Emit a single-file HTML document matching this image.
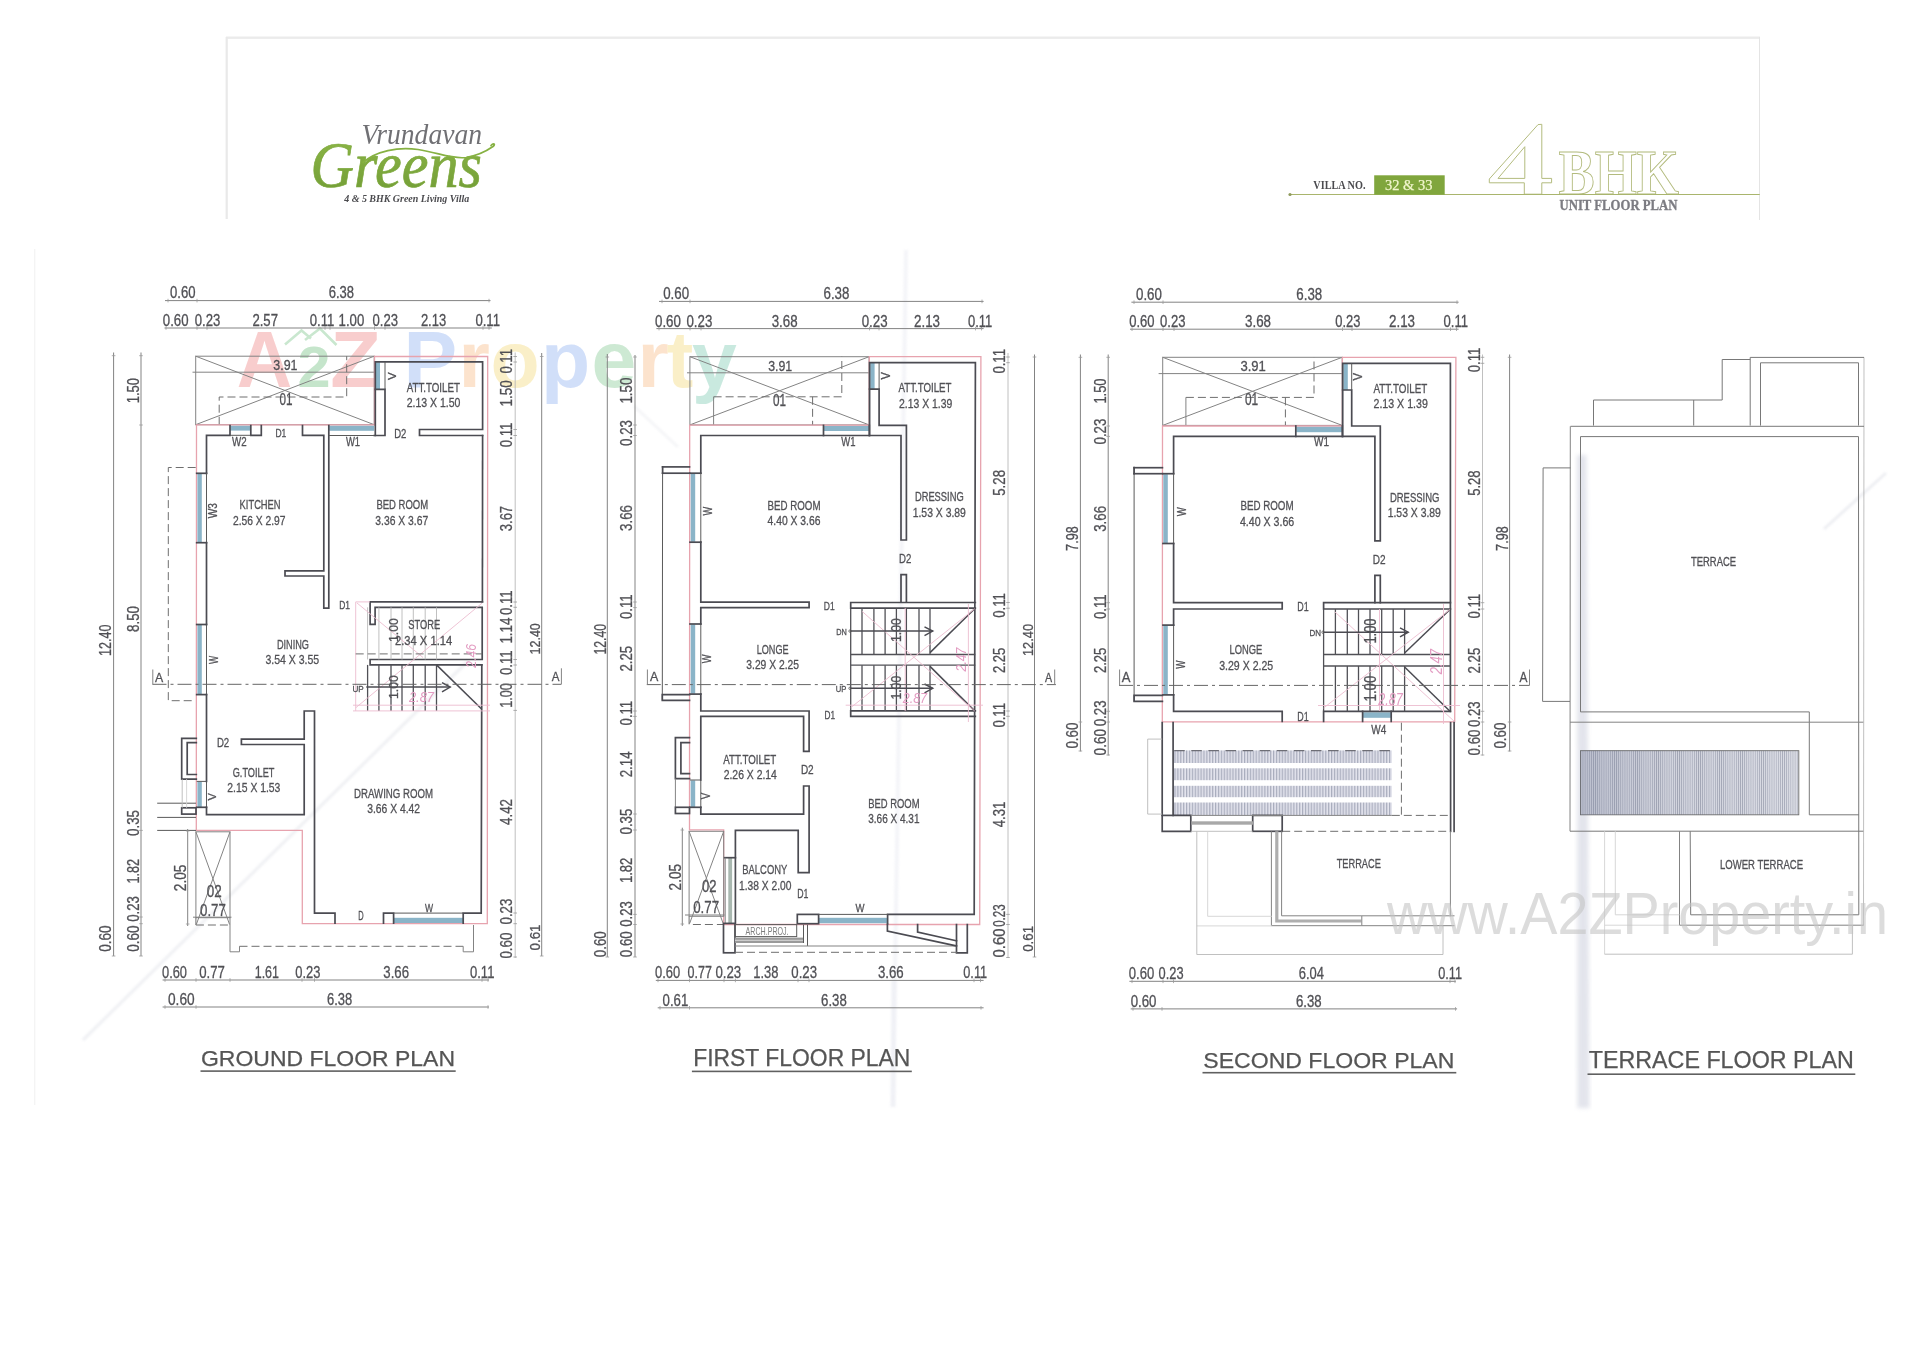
<!DOCTYPE html>
<html><head><meta charset="utf-8"><title>4 BHK Unit Floor Plan</title>
<style>
html,body{margin:0;padding:0;background:#fff;}
body{width:1920px;height:1357px;overflow:hidden;font-family:"Liberation Sans",sans-serif;}
svg{display:block;position:absolute;left:0;top:0;}
text{font-family:"Liberation Sans",sans-serif;}
.w{fill:none;stroke:#4b4b52;stroke-width:1.7;stroke-linecap:square;stroke-linejoin:miter;}
.wf{fill:#fff;stroke:#4b4b52;stroke-width:1.7;}
.t{fill:none;stroke:#838383;stroke-width:1;}
.tr{fill:none;stroke:#787878;stroke-width:1;}
.tt{fill:none;stroke:#5a5a5a;stroke-width:1;}
.ar{fill:none;stroke:#4b4b52;stroke-width:1.5;}
.st{fill:none;stroke:#505056;stroke-width:1.3;}
.tk{fill:none;stroke:#9a9a9a;stroke-width:0.8;}
.g{fill:none;stroke:#b9b9b9;stroke-width:0.9;}
.gg{fill:none;stroke:#d2d2d2;stroke-width:0.9;}
.ds{fill:none;stroke:#6e6e6e;stroke-width:1;stroke-dasharray:8 4;}
.dd{fill:none;stroke:#666;stroke-width:1;stroke-dasharray:14 4 3 4;}
.r{fill:none;stroke:#e7a3ae;stroke-width:1.3;}
.p{fill:none;stroke:#ecbccf;stroke-width:0.9;}
.b{fill:#8ab4c8;stroke:none;}
.d{fill:#505055;stroke:#505055;stroke-width:0.3;}
.l{fill:#505055;stroke:#505055;stroke-width:0.3;}
.pk{fill:#e39cc2;font-style:italic;}
.ti{fill:#555;stroke:#555;stroke-width:0.25;}
.sm{fill:#7d7d7d;}
</style></head><body>
<svg width="1920" height="1357" viewBox="0 0 1920 1357">
<defs>
<linearGradient id="gg" x1="0" y1="0" x2="0" y2="1"><stop offset="0" stop-color="#8fb948"/><stop offset="1" stop-color="#6f9a35"/></linearGradient>
<pattern id="hat" width="2.9" height="8" patternUnits="userSpaceOnUse" x="1174.4"><rect width="2.9" height="8" fill="#e3e4ed"/><rect width="1.25" height="8" fill="#a9adbd"/></pattern>
<pattern id="hat2" width="2.1" height="8" patternUnits="userSpaceOnUse" x="1580.5"><rect width="2.1" height="8" fill="#d8dae3"/><rect width="0.75" height="8" fill="#9ea2b2"/></pattern>
<linearGradient id="hg" x1="0" y1="0" x2="1" y2="0"><stop offset="0" stop-color="#7d84a0" stop-opacity="0.32"/><stop offset="0.45" stop-color="#9da2b6" stop-opacity="0.08"/><stop offset="1" stop-color="#ffffff" stop-opacity="0.1"/></linearGradient>
<filter id="bl" x="-20%" y="-20%" width="140%" height="140%"><feGaussianBlur stdDeviation="2.2"/></filter>
<filter id="bl1" x="-20%" y="-20%" width="140%" height="140%"><feGaussianBlur stdDeviation="1.2"/></filter>
</defs>
<g opacity="0.999">
<rect x="226" y="36.5" width="1534" height="2.4" fill="#ebebeb"/>
<rect x="225.6" y="37" width="2.2" height="182" fill="#e9e9e9"/>
<rect x="1759" y="37" width="1" height="183" fill="#e4e4e4"/>
<text x="361.5" y="144.3" font-family="Liberation Serif" font-style="italic" font-size="29.5" fill="#707074" textLength="120.5" lengthAdjust="spacingAndGlyphs" style="font-family:'Liberation Serif',serif">Vrundavan</text>
<text x="310.5" y="187.3" font-style="italic" font-size="65.5" fill="url(#gg)" stroke="#7ca83b" stroke-width="0.7" textLength="171.5" lengthAdjust="spacingAndGlyphs" style="font-family:'Liberation Serif',serif">Greens</text>
<path d="M363 162.5 C376 151 398 146.5 418 149.5 C438 152.5 452 159.5 466 157.5 C478 155.5 488 150 493 146.5 C496 144 493.5 142.5 491 145.5" fill="none" stroke="#86b142" stroke-width="1.7" stroke-linecap="round"/>
<text x="344.2" y="202.3" font-style="italic" font-weight="bold" font-size="10.3" fill="#4a4a4e" textLength="125" lengthAdjust="spacingAndGlyphs" style="font-family:'Liberation Serif',serif">4 &amp; 5 BHK Green Living Villa</text>
<line x1="1290" y1="194.5" x2="1759.5" y2="194.5" stroke="#a9b56d" stroke-width="1.1"/>
<circle cx="1290" cy="194.5" r="1.6" fill="#8f9a5c"/>
<text x="1313.3" y="188.8" font-weight="bold" font-size="12.2" fill="#4b4b4f" textLength="52.2" lengthAdjust="spacingAndGlyphs" style="font-family:'Liberation Serif',serif">VILLA NO.</text>
<rect x="1374.2" y="175.3" width="70.5" height="19.4" fill="#80a63d"/>
<text x="1385" y="190" font-size="15.6" fill="#f1f6cd" stroke="#f1f6cd" stroke-width="0.25" textLength="47.5" lengthAdjust="spacingAndGlyphs" style="font-family:'Liberation Serif',serif">32 &amp; 33</text>
<path d="M1538 124.6 L1541.8 124.3 L1541.8 178.4 L1551.6 178.4 L1551.6 182.8 L1541.8 182.8 L1541.8 194.2 L1524.3 194.2 L1524.3 182.8 L1489.3 182.8 L1489.3 179 Z M1524.8 146.7 L1524.8 178.4 L1498 178.4 Z" fill="#fff" fill-rule="evenodd" stroke="#b3bb7e" stroke-width="1" stroke-linejoin="miter"/>
<text x="1558.5" y="194.3" font-weight="bold" font-size="62.6" fill="#fff" stroke="#b3bb7e" stroke-width="1" textLength="120.5" lengthAdjust="spacingAndGlyphs" style="font-family:'Liberation Serif',serif">BHK</text>
<line x1="1486" y1="194.5" x2="1759.5" y2="194.5" stroke="#a9b56d" stroke-width="1.1"/>
<text x="1559.5" y="210.2" font-weight="bold" font-size="13.6" fill="#7c7c82" stroke="#7c7c82" stroke-width="0.3" textLength="118" lengthAdjust="spacingAndGlyphs" style="font-family:'Liberation Serif',serif">UNIT FLOOR PLAN</text>
<line x1="34.8" y1="249" x2="34.8" y2="1105" stroke="#f0f0f0" stroke-width="1"/>
<g opacity="0.9">
<text x="236.8" y="387.4" font-weight="bold" font-size="80.5" style="font-family:'Liberation Sans',sans-serif" fill="#f8c8c8" textLength="55.5" lengthAdjust="spacingAndGlyphs">A</text>
<text x="297.5" y="387.4" font-weight="bold" font-size="57.5" fill="#bfe3c6" textLength="33" lengthAdjust="spacingAndGlyphs">2</text>
<path d="M285 344.5 L301.5 330.5 L311 338.5 M305 340 L320 328.5 L336.5 345" fill="none" stroke="#c4e5ca" stroke-width="2.6"/>
<text x="330.3" y="387.4" font-weight="bold" font-size="80.5" style="font-family:'Liberation Sans',sans-serif" fill="#f8c8c8" textLength="50.5" lengthAdjust="spacingAndGlyphs">Z</text>
<text x="403.5" y="387.3" font-weight="bold" font-size="80.5" style="font-family:'Liberation Sans',sans-serif" fill="#cddcf9">P</text>
<text x="458.5" y="387.3" font-weight="bold" font-size="80.5" style="font-family:'Liberation Sans',sans-serif" fill="#fce0c8">r</text>
<text x="490.5" y="387.3" font-weight="bold" font-size="80.5" style="font-family:'Liberation Sans',sans-serif" fill="#faeec2">o</text>
<text x="541" y="387.3" font-weight="bold" font-size="80.5" style="font-family:'Liberation Sans',sans-serif" fill="#cddcf9">p</text>
<text x="591.5" y="387.3" font-weight="bold" font-size="80.5" style="font-family:'Liberation Sans',sans-serif" fill="#c8e7cf">e</text>
<text x="637.5" y="387.3" font-weight="bold" font-size="80.5" style="font-family:'Liberation Sans',sans-serif" fill="#fce0c8">r</text>
<text x="666.5" y="387.3" font-weight="bold" font-size="80.5" style="font-family:'Liberation Sans',sans-serif" fill="#faeec2">t</text>
<text x="692" y="387.3" font-weight="bold" font-size="80.5" style="font-family:'Liberation Sans',sans-serif" fill="#c4e7dc">y</text>
</g>
<g filter="url(#bl)" opacity="0.4">
<path d="M1577 455 L1586.5 455 L1589.5 1108 L1577.5 1108 Z" fill="#b9bdd0"/>
</g>
<g filter="url(#bl1)" opacity="0.3">
<line x1="468" y1="661" x2="83" y2="1040" stroke="#cfd2dc" stroke-width="3.2"/>
<line x1="1886" y1="473" x2="1824" y2="529" stroke="#c6c9d6" stroke-width="3"/>
<line x1="906" y1="250" x2="893" y2="1107" stroke="#dcdeea" stroke-width="4"/>
<line x1="894" y1="980" x2="893" y2="1107" stroke="#cfd2e2" stroke-width="5"/>
<line x1="634" y1="406" x2="678" y2="447" stroke="#dddfe6" stroke-width="3"/>
</g>
<line class="t" x1="165" y1="300.6" x2="490.5" y2="300.6"/>
<line class="tk" x1="168" y1="298.8" x2="168" y2="302.4"/>
<line class="tk" x1="197" y1="298.8" x2="197" y2="302.4"/>
<line class="tk" x1="489" y1="298.8" x2="489" y2="302.4"/>
<text class="d" x="170" y="298.3" font-size="15.71" textLength="25.5" lengthAdjust="spacingAndGlyphs">0.60</text>
<text class="d" x="328.7" y="298.3" font-size="15.71" textLength="25.3" lengthAdjust="spacingAndGlyphs">6.38</text>
<line class="t" x1="164.5" y1="328" x2="491.8" y2="328"/>
<line class="tk" x1="166" y1="326.2" x2="166" y2="329.8"/>
<line class="tk" x1="197" y1="326.2" x2="197" y2="329.8"/>
<line class="tk" x1="207" y1="326.2" x2="207" y2="329.8"/>
<line class="tk" x1="325" y1="326.2" x2="325" y2="329.8"/>
<line class="tk" x1="330" y1="326.2" x2="330" y2="329.8"/>
<line class="tk" x1="374.5" y1="326.2" x2="374.5" y2="329.8"/>
<line class="tk" x1="385" y1="326.2" x2="385" y2="329.8"/>
<line class="tk" x1="483" y1="326.2" x2="483" y2="329.8"/>
<line class="tk" x1="489" y1="326.2" x2="489" y2="329.8"/>
<text class="d" x="162.8" y="325.8" font-size="15.71" textLength="25.7" lengthAdjust="spacingAndGlyphs">0.60</text>
<text class="d" x="194.8" y="325.8" font-size="15.71" textLength="25.6" lengthAdjust="spacingAndGlyphs">0.23</text>
<text class="d" x="252.4" y="325.8" font-size="15.71" textLength="25.6" lengthAdjust="spacingAndGlyphs">2.57</text>
<text class="d" x="309.8" y="325.8" font-size="15.71" textLength="24.6" lengthAdjust="spacingAndGlyphs">0.11</text>
<text class="d" x="338.6" y="325.8" font-size="15.71" textLength="25.7" lengthAdjust="spacingAndGlyphs">1.00</text>
<text class="d" x="372.5" y="325.8" font-size="15.71" textLength="25.5" lengthAdjust="spacingAndGlyphs">0.23</text>
<text class="d" x="420.9" y="325.8" font-size="15.71" textLength="25.3" lengthAdjust="spacingAndGlyphs">2.13</text>
<text class="d" x="475.4" y="325.8" font-size="15.71" textLength="24.6" lengthAdjust="spacingAndGlyphs">0.11</text>
<line class="t" x1="113.6" y1="352.5" x2="113.6" y2="956"/>
<line class="t" x1="141" y1="352.5" x2="141" y2="956"/>
<line class="tk" x1="111.8" y1="355.7" x2="115.4" y2="355.7"/>
<line class="tk" x1="111.8" y1="956" x2="115.4" y2="956"/>
<line class="tk" x1="139.2" y1="355.7" x2="142.8" y2="355.7"/>
<line class="tk" x1="139.2" y1="425" x2="142.8" y2="425"/>
<line class="tk" x1="139.2" y1="830.4" x2="142.8" y2="830.4"/>
<line class="tk" x1="139.2" y1="917" x2="142.8" y2="917"/>
<line class="tk" x1="139.2" y1="923.7" x2="142.8" y2="923.7"/>
<line class="tk" x1="139.2" y1="956" x2="142.8" y2="956"/>
<text class="d" transform="translate(110.6 656) rotate(-90)" font-size="16.57" textLength="31.5" lengthAdjust="spacingAndGlyphs">12.40</text>
<text class="d" transform="translate(110.6 951.8) rotate(-90)" font-size="16.57" textLength="26.5" lengthAdjust="spacingAndGlyphs">0.60</text>
<text class="d" transform="translate(139.4 403.3) rotate(-90)" font-size="15.86" textLength="25.3" lengthAdjust="spacingAndGlyphs">1.50</text>
<text class="d" transform="translate(139.4 632) rotate(-90)" font-size="15.86" textLength="26" lengthAdjust="spacingAndGlyphs">8.50</text>
<text class="d" transform="translate(139.4 836) rotate(-90)" font-size="15.86" textLength="26" lengthAdjust="spacingAndGlyphs">0.35</text>
<text class="d" transform="translate(139.4 883.6) rotate(-90)" font-size="15.86" textLength="24.6" lengthAdjust="spacingAndGlyphs">1.82</text>
<text class="d" transform="translate(139.4 921.8) rotate(-90)" font-size="15.86" textLength="25.8" lengthAdjust="spacingAndGlyphs">0.23</text>
<text class="d" transform="translate(139.4 951.8) rotate(-90)" font-size="15.86" textLength="26.5" lengthAdjust="spacingAndGlyphs">0.60</text>
<line class="g" x1="515.2" y1="352.5" x2="515.2" y2="958"/>
<line class="t" x1="541.7" y1="353" x2="541.7" y2="956"/>
<line class="tk" x1="513.4" y1="356.5" x2="517" y2="356.5"/>
<line class="tk" x1="513.4" y1="362" x2="517" y2="362"/>
<line class="tk" x1="513.4" y1="429.5" x2="517" y2="429.5"/>
<line class="tk" x1="513.4" y1="435.5" x2="517" y2="435.5"/>
<line class="tk" x1="513.4" y1="602" x2="517" y2="602"/>
<line class="tk" x1="513.4" y1="607.3" x2="517" y2="607.3"/>
<line class="tk" x1="513.4" y1="659.5" x2="517" y2="659.5"/>
<line class="tk" x1="513.4" y1="665" x2="517" y2="665"/>
<line class="tk" x1="513.4" y1="710.4" x2="517" y2="710.4"/>
<line class="tk" x1="513.4" y1="913" x2="517" y2="913"/>
<line class="tk" x1="513.4" y1="923.7" x2="517" y2="923.7"/>
<line class="tk" x1="513.4" y1="957" x2="517" y2="957"/>
<line class="tk" x1="539.9" y1="356.5" x2="543.5" y2="356.5"/>
<line class="tk" x1="539.9" y1="956" x2="543.5" y2="956"/>
<text class="d" transform="translate(512 373.6) rotate(-90)" font-size="16" textLength="24.6" lengthAdjust="spacingAndGlyphs">0.11</text>
<text class="d" transform="translate(512 406.4) rotate(-90)" font-size="16" textLength="26" lengthAdjust="spacingAndGlyphs">1.50</text>
<text class="d" transform="translate(512 447.3) rotate(-90)" font-size="16" textLength="24.6" lengthAdjust="spacingAndGlyphs">0.11</text>
<text class="d" transform="translate(512 531.2) rotate(-90)" font-size="16" textLength="25.3" lengthAdjust="spacingAndGlyphs">3.67</text>
<text class="d" transform="translate(512 615) rotate(-90)" font-size="16" textLength="24.6" lengthAdjust="spacingAndGlyphs">0.11</text>
<text class="d" transform="translate(512 643.6) rotate(-90)" font-size="16" textLength="25.9" lengthAdjust="spacingAndGlyphs">1.14</text>
<text class="d" transform="translate(512 675) rotate(-90)" font-size="16" textLength="24.5" lengthAdjust="spacingAndGlyphs">0.11</text>
<text class="d" transform="translate(512 707.7) rotate(-90)" font-size="16" textLength="24.5" lengthAdjust="spacingAndGlyphs">1.00</text>
<text class="d" transform="translate(512 825) rotate(-90)" font-size="16" textLength="26" lengthAdjust="spacingAndGlyphs">4.42</text>
<text class="d" transform="translate(512 924.5) rotate(-90)" font-size="16" textLength="25.9" lengthAdjust="spacingAndGlyphs">0.23</text>
<text class="d" transform="translate(512 958.6) rotate(-90)" font-size="16" textLength="25.9" lengthAdjust="spacingAndGlyphs">0.60</text>
<text class="d" transform="translate(540 654.5) rotate(-90)" font-size="15.29" textLength="31.3" lengthAdjust="spacingAndGlyphs">12.40</text>
<text class="d" transform="translate(540 950.4) rotate(-90)" font-size="15.29" textLength="25.9" lengthAdjust="spacingAndGlyphs">0.61</text>
<line class="t" x1="162.6" y1="980" x2="489" y2="980"/>
<line class="tk" x1="165" y1="978.2" x2="165" y2="981.8"/>
<line class="tk" x1="196" y1="978.2" x2="196" y2="981.8"/>
<line class="tk" x1="230" y1="978.2" x2="230" y2="981.8"/>
<line class="tk" x1="302" y1="978.2" x2="302" y2="981.8"/>
<line class="tk" x1="314.5" y1="978.2" x2="314.5" y2="981.8"/>
<line class="tk" x1="482" y1="978.2" x2="482" y2="981.8"/>
<line class="tk" x1="488" y1="978.2" x2="488" y2="981.8"/>
<text class="d" x="162" y="977.8" font-size="16.43" textLength="25" lengthAdjust="spacingAndGlyphs">0.60</text>
<text class="d" x="199.2" y="977.8" font-size="16.43" textLength="25.7" lengthAdjust="spacingAndGlyphs">0.77</text>
<text class="d" x="254.7" y="977.8" font-size="16.43" textLength="24.3" lengthAdjust="spacingAndGlyphs">1.61</text>
<text class="d" x="295.3" y="977.8" font-size="16.43" textLength="25.2" lengthAdjust="spacingAndGlyphs">0.23</text>
<text class="d" x="383.3" y="977.8" font-size="16.43" textLength="25.7" lengthAdjust="spacingAndGlyphs">3.66</text>
<text class="d" x="470" y="977.8" font-size="16.43" textLength="24.4" lengthAdjust="spacingAndGlyphs">0.11</text>
<line class="t" x1="162.6" y1="1007" x2="489" y2="1007"/>
<line class="tk" x1="165" y1="1005.2" x2="165" y2="1008.8"/>
<line class="tk" x1="196" y1="1005.2" x2="196" y2="1008.8"/>
<line class="tk" x1="488" y1="1005.2" x2="488" y2="1008.8"/>
<text class="d" x="168" y="1005" font-size="16" textLength="26.6" lengthAdjust="spacingAndGlyphs">0.60</text>
<text class="d" x="327" y="1005" font-size="16" textLength="25.2" lengthAdjust="spacingAndGlyphs">6.38</text>
<text class="ti" x="201" y="1065.5" font-size="22.71" textLength="254" lengthAdjust="spacingAndGlyphs">GROUND FLOOR PLAN</text>
<rect x="200.5" y="1070.3" width="255.2" height="1.6" fill="#606060"/>
<rect class="t" x="195.7" y="356.2" width="178.5" height="68.5"/>
<line class="t" x1="192.5" y1="372.2" x2="374.2" y2="372.2"/>
<line class="t" x1="195.7" y1="356.2" x2="374.2" y2="424.7"/>
<line class="t" x1="195.7" y1="424.7" x2="374.2" y2="356.2"/>
<path class="ds" d="M219.2 424.7 L219.2 397 L346.7 397 L346.7 356.2"/>
<text class="d" x="273.3" y="370" font-size="15.29" textLength="24.2" lengthAdjust="spacingAndGlyphs">3.91</text>
<text class="d" x="279.5" y="404.7" font-size="16" textLength="13" lengthAdjust="spacingAndGlyphs">01</text>
<path class="r" d="M374.5 356.5 L487.7 356.5 L487.3 923.7 L302.3 923.7 L302.3 830.4 L196.3 830.4 L196.5 424.9 L374.5 424.9 Z"/>
<rect class="b" x="375.9" y="362.2" width="4.1" height="26.8"/>
<rect class="b" x="230.3" y="425.8" width="20.2" height="4.8"/>
<rect class="b" x="329.2" y="425.8" width="44.8" height="5"/>
<rect class="b" x="197.4" y="473.8" width="4.4" height="68.5"/>
<rect class="b" x="197.4" y="625" width="4.4" height="69.2"/>
<rect class="b" x="197.4" y="781.8" width="4.4" height="25.2"/>
<rect class="b" x="394" y="917.8" width="69" height="5.2"/>
<path class="w" d="M375.3 435.5 L375.3 361.9 L482.6 361.9 L482.6 429.5 L419.5 429.5 L419.5 435.5 L482.6 435.5"/>
<path class="tt" d="M385 362 L385 389.4"/>
<path class="w" d="M375.3 389.4 L385 389.4 L385 435.5 L374.2 435.5"/>
<path class="w" d="M328.8 425.5 L328.8 608.2 L323.8 608.2 L323.8 576 L285 576 L285 570.8 L323.8 570.8 L323.8 435.3 L302.5 435.3 L302.5 425.5"/>
<line class="tt" x1="328.8" y1="435.5" x2="374.2" y2="435.5"/>
<line class="w" x1="482.6" y1="435.5" x2="482.4" y2="601.9"/>
<path class="w" d="M206.5 473.3 L206.5 435.3 L230 435.3 L230 425.5"/>
<path class="w" d="M250.8 425.5 L250.8 435.3 L261.3 435.3 L261.3 425.5"/>
<line class="tt" x1="230" y1="435.3" x2="250.8" y2="435.3"/>
<line class="w" x1="196.7" y1="473.3" x2="206.5" y2="473.3"/>
<line class="w" x1="196.7" y1="542.7" x2="206.5" y2="542.7"/>
<line class="w" x1="196.7" y1="624.5" x2="206.5" y2="624.5"/>
<line class="w" x1="196.7" y1="694.6" x2="206.5" y2="694.6"/>
<line class="tt" x1="206.5" y1="473.3" x2="206.5" y2="542.7"/>
<line class="tt" x1="206.5" y1="624.5" x2="206.5" y2="694.6"/>
<line class="tt" x1="206.5" y1="781.4" x2="206.5" y2="807.3"/>
<line class="w" x1="206.5" y1="542.7" x2="206.5" y2="624.5"/>
<line class="w" x1="206.5" y1="694.6" x2="206.5" y2="781.4"/>
<line class="tt" x1="196.7" y1="781.4" x2="206.5" y2="781.4"/>
<line class="w" x1="196.7" y1="807.3" x2="206.5" y2="807.3"/>
<path class="w" d="M206.5 807.3 L206.5 814.6 L304.2 814.6 L304.2 744.5 L241.4 744.5 L241.4 739.1 L304.2 739.1 L304.2 711 L314.5 711 L314.5 913.1 L335 913.1 L335 923.2"/>
<path class="w" d="M383.5 923.2 L383.5 913.1 L393.6 913.1 L393.6 923.2"/>
<line class="tt" x1="393.6" y1="913.1" x2="463.2" y2="913.1"/>
<path class="w" d="M463.2 923.2 L463.2 913.1 L481.2 913.1 L481.8 664.9"/>
<path class="w" d="M482.4 601.9 L370.1 601.9 L370.1 624.4 L375.1 624.4 L375.1 607.3 L482.2 607.3 L482.2 659.5 L370.1 659.5 L370.1 664.9 L481.8 664.9"/>
<line class="st" x1="367.6" y1="664.9" x2="367.6" y2="710.9"/>
<line class="g" x1="367.6" y1="607.3" x2="367.6" y2="659.5"/>
<line class="st" x1="378.9" y1="664.9" x2="378.9" y2="710.9"/>
<line class="g" x1="378.9" y1="607.3" x2="378.9" y2="659.5"/>
<line class="st" x1="391" y1="664.9" x2="391" y2="710.9"/>
<line class="g" x1="391" y1="607.3" x2="391" y2="659.5"/>
<line class="st" x1="402" y1="664.9" x2="402" y2="710.9"/>
<line class="g" x1="402" y1="607.3" x2="402" y2="659.5"/>
<line class="st" x1="413.3" y1="664.9" x2="413.3" y2="710.9"/>
<line class="g" x1="413.3" y1="607.3" x2="413.3" y2="659.5"/>
<line class="st" x1="425.2" y1="664.9" x2="425.2" y2="710.9"/>
<line class="g" x1="425.2" y1="607.3" x2="425.2" y2="659.5"/>
<line class="st" x1="436.5" y1="664.9" x2="436.5" y2="710.9"/>
<line class="g" x1="436.5" y1="607.3" x2="436.5" y2="659.5"/>
<line class="ar" x1="436.5" y1="664.9" x2="481.6" y2="709"/>
<line class="p" x1="353" y1="705.2" x2="490" y2="705.2"/>
<line class="p" x1="353" y1="710.9" x2="490" y2="710.9"/>
<line class="p" x1="355.7" y1="601.9" x2="355.7" y2="710.9"/>
<line class="p" x1="355.7" y1="601.9" x2="370" y2="601.9"/>
<line class="p" x1="355.7" y1="707.8" x2="482.2" y2="603"/>
<line class="p" x1="357" y1="603" x2="423" y2="657.5"/>
<line class="ds" x1="355.7" y1="653.9" x2="482.2" y2="653.9"/>
<line class="ar" x1="366.3" y1="687.1" x2="450.2" y2="687.1"/>
<path class="ar" d="M442 682.6 L450.2 687.1 L442 691.8"/>
<path class="w" d="M196.3 738.3 L181.7 738.3 L181.7 779.2 L196.3 779.2"/>
<path class="w" d="M196.3 742.6 L187.2 742.6 L187.2 774.5 L196.3 774.5"/>
<line class="tt" x1="157.2" y1="803.2" x2="196" y2="803.2"/>
<line class="tt" x1="157.2" y1="817.4" x2="196" y2="817.4"/>
<line class="tt" x1="157.2" y1="830.4" x2="196" y2="830.4"/>
<rect class="w" x="181.7" y="807.8" width="14.3" height="6.3"/>
<line class="g" x1="182.2" y1="779.2" x2="182.2" y2="807.8"/>
<line class="gg" x1="186.6" y1="779.2" x2="186.6" y2="807.8"/>
<rect class="t" x="195.9" y="831.8" width="34.1" height="85.9"/>
<line class="t" x1="195.9" y1="831.8" x2="229.6" y2="924.5"/>
<line class="t" x1="196.3" y1="924.5" x2="230" y2="831.8"/>
<text class="d" x="206.8" y="897.3" font-size="15.57" textLength="15" lengthAdjust="spacingAndGlyphs">02</text>
<text class="d" x="200" y="916" font-size="16.71" textLength="25.9" lengthAdjust="spacingAndGlyphs">0.77</text>
<line class="t" x1="193" y1="917.2" x2="231.5" y2="917.2"/>
<line class="t" x1="187.7" y1="829" x2="187.7" y2="926"/>
<line class="tk" x1="185.9" y1="831" x2="189.5" y2="831"/>
<line class="tk" x1="185.9" y1="924" x2="189.5" y2="924"/>
<text class="d" transform="translate(186 891.2) rotate(-90)" font-size="16.43" textLength="26.7" lengthAdjust="spacingAndGlyphs">2.05</text>
<line class="ds" x1="195.9" y1="917.7" x2="195.9" y2="925"/>
<line class="ds" x1="195.9" y1="925" x2="230" y2="925"/>
<path class="t" d="M230 917.7 L230 951.8 L239.5 951.8 L239.5 946.3"/>
<line class="ds" x1="239.5" y1="946.3" x2="463.2" y2="946.3"/>
<path class="t" d="M463.2 946.3 L463.2 951.8 L473.5 951.8 L473.5 925"/>
<path class="ds" d="M195.7 467.5 L168.3 467.5 L168.3 700.7 L195.7 700.7"/>
<line class="dd" x1="152.5" y1="684.3" x2="561.3" y2="684.3"/>
<text class="l" x="155" y="681.8" font-size="13.57" textLength="8.2" lengthAdjust="spacingAndGlyphs">A</text>
<line class="t" x1="152.8" y1="669.5" x2="152.8" y2="684.5"/>
<text class="l" x="551.8" y="680.8" font-size="13.43" textLength="7.7" lengthAdjust="spacingAndGlyphs">A</text>
<line class="t" x1="561.4" y1="668.3" x2="561.4" y2="684.3"/>
<text class="l" x="406.7" y="391.9" font-size="12.14" textLength="53.2" lengthAdjust="spacingAndGlyphs">ATT.TOILET</text>
<text class="l" x="406.7" y="407.2" font-size="12.57" textLength="53.7" lengthAdjust="spacingAndGlyphs">2.13 X 1.50</text>
<text class="l" x="239.6" y="509" font-size="12" textLength="41" lengthAdjust="spacingAndGlyphs">KITCHEN</text>
<text class="l" x="233" y="524.6" font-size="12.57" textLength="52.5" lengthAdjust="spacingAndGlyphs">2.56 X 2.97</text>
<text class="l" x="376.4" y="509.2" font-size="12.29" textLength="51.8" lengthAdjust="spacingAndGlyphs">BED ROOM</text>
<text class="l" x="375.3" y="524.8" font-size="12.86" textLength="52.9" lengthAdjust="spacingAndGlyphs">3.36 X 3.67</text>
<text class="l" x="276.9" y="649" font-size="12.86" textLength="32.1" lengthAdjust="spacingAndGlyphs">DINING</text>
<text class="l" x="265.4" y="664.4" font-size="13.14" textLength="53.8" lengthAdjust="spacingAndGlyphs">3.54 X 3.55</text>
<text class="l" x="408.3" y="628.7" font-size="12.43" textLength="31.9" lengthAdjust="spacingAndGlyphs">STORE</text>
<text class="l" x="395" y="644.5" font-size="12.57" textLength="57.2" lengthAdjust="spacingAndGlyphs">2.34 X 1.14</text>
<text class="l" x="232.7" y="776.7" font-size="12.43" textLength="41.7" lengthAdjust="spacingAndGlyphs">G.TOILET</text>
<text class="l" x="227.3" y="792.2" font-size="12.86" textLength="53.1" lengthAdjust="spacingAndGlyphs">2.15 X 1.53</text>
<text class="l" x="354" y="797.5" font-size="12.71" textLength="79.1" lengthAdjust="spacingAndGlyphs">DRAWING ROOM</text>
<text class="l" x="367.2" y="813.3" font-size="12.71" textLength="52.8" lengthAdjust="spacingAndGlyphs">3.66 X 4.42</text>
<text class="l" x="232" y="446.3" font-size="11.86" textLength="14.6" lengthAdjust="spacingAndGlyphs">W2</text>
<text class="l" x="275.4" y="436.8" font-size="11.43" textLength="10.9" lengthAdjust="spacingAndGlyphs">D1</text>
<text class="l" x="345.9" y="446.3" font-size="11.86" textLength="14.1" lengthAdjust="spacingAndGlyphs">W1</text>
<text class="l" x="394.2" y="438.2" font-size="12" textLength="12.2" lengthAdjust="spacingAndGlyphs">D2</text>
<text class="l" x="339.2" y="609" font-size="11.71" textLength="10.8" lengthAdjust="spacingAndGlyphs">D1</text>
<text class="l" x="216.9" y="747.2" font-size="12" textLength="12.3" lengthAdjust="spacingAndGlyphs">D2</text>
<text class="l" x="358.2" y="920.3" font-size="11.86" textLength="5.4" lengthAdjust="spacingAndGlyphs">D</text>
<text class="l" x="425" y="912.2" font-size="11.43" textLength="8.1" lengthAdjust="spacingAndGlyphs">W</text>
<text class="l" x="352.5" y="691.5" font-size="9.57" textLength="11.3" lengthAdjust="spacingAndGlyphs">UP</text>
<text class="l" transform="translate(217 518.3) rotate(-90)" font-size="12" textLength="15.1" lengthAdjust="spacingAndGlyphs">W3</text>
<text class="l" transform="translate(218 664) rotate(-90)" font-size="12.29" textLength="8.1" lengthAdjust="spacingAndGlyphs">W</text>
<text class="l" transform="translate(396.4 380) rotate(-90)" font-size="11.43" textLength="7.7" lengthAdjust="spacingAndGlyphs">V</text>
<text class="l" transform="translate(216.4 800.4) rotate(-90)" font-size="11.43" textLength="7.4" lengthAdjust="spacingAndGlyphs">V</text>
<text class="l" transform="translate(398.3 642) rotate(-90)" font-size="13.43" textLength="23.8" lengthAdjust="spacingAndGlyphs">1.00</text>
<text class="l" transform="translate(398.3 699) rotate(-90)" font-size="13.43" textLength="23.8" lengthAdjust="spacingAndGlyphs">1.00</text>
<text class="pk" x="408.9" y="702" font-size="14.57" textLength="25.1" lengthAdjust="spacingAndGlyphs">2.87</text>
<text class="pk" transform="translate(475.9 667.7) rotate(-90)" font-size="14.14" textLength="23.8" lengthAdjust="spacingAndGlyphs">2.46</text>
<line class="t" x1="659" y1="301.4" x2="983.6" y2="301.4"/>
<line class="tk" x1="662" y1="299.6" x2="662" y2="303.2"/>
<line class="tk" x1="690" y1="299.6" x2="690" y2="303.2"/>
<line class="tk" x1="982" y1="299.6" x2="982" y2="303.2"/>
<text class="d" x="663.2" y="299.3" font-size="15.71" textLength="25.9" lengthAdjust="spacingAndGlyphs">0.60</text>
<text class="d" x="823.5" y="299.3" font-size="15.71" textLength="25.9" lengthAdjust="spacingAndGlyphs">6.38</text>
<line class="t" x1="656.4" y1="328.6" x2="983.6" y2="328.6"/>
<line class="tk" x1="659" y1="326.8" x2="659" y2="330.4"/>
<line class="tk" x1="690" y1="326.8" x2="690" y2="330.4"/>
<line class="tk" x1="701" y1="326.8" x2="701" y2="330.4"/>
<line class="tk" x1="869.5" y1="326.8" x2="869.5" y2="330.4"/>
<line class="tk" x1="879" y1="326.8" x2="879" y2="330.4"/>
<line class="tk" x1="975.5" y1="326.8" x2="975.5" y2="330.4"/>
<line class="tk" x1="981.5" y1="326.8" x2="981.5" y2="330.4"/>
<text class="d" x="655" y="326.6" font-size="15.71" textLength="25.9" lengthAdjust="spacingAndGlyphs">0.60</text>
<text class="d" x="686.4" y="326.6" font-size="15.71" textLength="25.9" lengthAdjust="spacingAndGlyphs">0.23</text>
<text class="d" x="771.7" y="326.6" font-size="15.71" textLength="25.9" lengthAdjust="spacingAndGlyphs">3.68</text>
<text class="d" x="861.7" y="326.6" font-size="15.71" textLength="25.9" lengthAdjust="spacingAndGlyphs">0.23</text>
<text class="d" x="914" y="326.6" font-size="15.71" textLength="26" lengthAdjust="spacingAndGlyphs">2.13</text>
<text class="d" x="968" y="326.6" font-size="15.71" textLength="24.3" lengthAdjust="spacingAndGlyphs">0.11</text>
<line class="t" x1="607.3" y1="354" x2="607.3" y2="957"/>
<line class="t" x1="635" y1="355" x2="635" y2="957"/>
<line class="tk" x1="605.5" y1="357" x2="609.1" y2="357"/>
<line class="tk" x1="605.5" y1="957" x2="609.1" y2="957"/>
<line class="tk" x1="633.2" y1="357" x2="636.8" y2="357"/>
<line class="tk" x1="633.2" y1="425" x2="636.8" y2="425"/>
<line class="tk" x1="633.2" y1="435.5" x2="636.8" y2="435.5"/>
<line class="tk" x1="633.2" y1="602" x2="636.8" y2="602"/>
<line class="tk" x1="633.2" y1="607.6" x2="636.8" y2="607.6"/>
<line class="tk" x1="633.2" y1="711" x2="636.8" y2="711"/>
<line class="tk" x1="633.2" y1="716.4" x2="636.8" y2="716.4"/>
<line class="tk" x1="633.2" y1="814" x2="636.8" y2="814"/>
<line class="tk" x1="633.2" y1="830" x2="636.8" y2="830"/>
<line class="tk" x1="633.2" y1="914.4" x2="636.8" y2="914.4"/>
<line class="tk" x1="633.2" y1="924.5" x2="636.8" y2="924.5"/>
<line class="tk" x1="633.2" y1="957" x2="636.8" y2="957"/>
<text class="d" transform="translate(605.7 654.5) rotate(-90)" font-size="17" textLength="30.5" lengthAdjust="spacingAndGlyphs">12.40</text>
<text class="d" transform="translate(605.7 957.2) rotate(-90)" font-size="17" textLength="25.9" lengthAdjust="spacingAndGlyphs">0.60</text>
<text class="d" transform="translate(632.3 403.6) rotate(-90)" font-size="16.14" textLength="25.9" lengthAdjust="spacingAndGlyphs">1.50</text>
<text class="d" transform="translate(632.3 445.9) rotate(-90)" font-size="16.14" textLength="25.9" lengthAdjust="spacingAndGlyphs">0.23</text>
<text class="d" transform="translate(632.3 531) rotate(-90)" font-size="16.14" textLength="26" lengthAdjust="spacingAndGlyphs">3.66</text>
<text class="d" transform="translate(632.3 619) rotate(-90)" font-size="16.14" textLength="24.5" lengthAdjust="spacingAndGlyphs">0.11</text>
<text class="d" transform="translate(632.3 671.5) rotate(-90)" font-size="16.14" textLength="25.7" lengthAdjust="spacingAndGlyphs">2.25</text>
<text class="d" transform="translate(632.3 725.4) rotate(-90)" font-size="16.14" textLength="24.5" lengthAdjust="spacingAndGlyphs">0.11</text>
<text class="d" transform="translate(632.3 777.3) rotate(-90)" font-size="16.14" textLength="25.9" lengthAdjust="spacingAndGlyphs">2.14</text>
<text class="d" transform="translate(632.3 834.5) rotate(-90)" font-size="16.14" textLength="25.9" lengthAdjust="spacingAndGlyphs">0.35</text>
<text class="d" transform="translate(632.3 883.1) rotate(-90)" font-size="16.14" textLength="25.4" lengthAdjust="spacingAndGlyphs">1.82</text>
<text class="d" transform="translate(632.3 926.7) rotate(-90)" font-size="16.14" textLength="25.4" lengthAdjust="spacingAndGlyphs">0.23</text>
<text class="d" transform="translate(632.3 957.2) rotate(-90)" font-size="16.14" textLength="25.9" lengthAdjust="spacingAndGlyphs">0.60</text>
<line class="g" x1="1008" y1="353" x2="1008" y2="958"/>
<line class="t" x1="1034.5" y1="354.5" x2="1034.5" y2="957"/>
<line class="tk" x1="1006.2" y1="357" x2="1009.8" y2="357"/>
<line class="tk" x1="1006.2" y1="362.7" x2="1009.8" y2="362.7"/>
<line class="tk" x1="1006.2" y1="602.5" x2="1009.8" y2="602.5"/>
<line class="tk" x1="1006.2" y1="608.2" x2="1009.8" y2="608.2"/>
<line class="tk" x1="1006.2" y1="711" x2="1009.8" y2="711"/>
<line class="tk" x1="1006.2" y1="716.3" x2="1009.8" y2="716.3"/>
<line class="tk" x1="1006.2" y1="914.4" x2="1009.8" y2="914.4"/>
<line class="tk" x1="1006.2" y1="924.5" x2="1009.8" y2="924.5"/>
<line class="tk" x1="1006.2" y1="957.5" x2="1009.8" y2="957.5"/>
<line class="tk" x1="1032.7" y1="357" x2="1036.3" y2="357"/>
<line class="tk" x1="1032.7" y1="957" x2="1036.3" y2="957"/>
<text class="d" transform="translate(1005 373.6) rotate(-90)" font-size="16.14" textLength="24.6" lengthAdjust="spacingAndGlyphs">0.11</text>
<text class="d" transform="translate(1005 495.8) rotate(-90)" font-size="16.14" textLength="25.9" lengthAdjust="spacingAndGlyphs">5.28</text>
<text class="d" transform="translate(1005 617.7) rotate(-90)" font-size="16.14" textLength="24.5" lengthAdjust="spacingAndGlyphs">0.11</text>
<text class="d" transform="translate(1005 673) rotate(-90)" font-size="16.14" textLength="25.3" lengthAdjust="spacingAndGlyphs">2.25</text>
<text class="d" transform="translate(1005 727.6) rotate(-90)" font-size="16.14" textLength="24.6" lengthAdjust="spacingAndGlyphs">0.11</text>
<text class="d" transform="translate(1005 827.2) rotate(-90)" font-size="16.14" textLength="25.4" lengthAdjust="spacingAndGlyphs">4.31</text>
<text class="d" transform="translate(1005 926.8) rotate(-90)" font-size="16.14" textLength="22.4" lengthAdjust="spacingAndGlyphs">0.23</text>
<text class="d" transform="translate(1005 957.5) rotate(-90)" font-size="16.14" textLength="29" lengthAdjust="spacingAndGlyphs">0.60</text>
<text class="d" transform="translate(1032.5 656) rotate(-90)" font-size="15.29" textLength="32" lengthAdjust="spacingAndGlyphs">12.40</text>
<text class="d" transform="translate(1032.5 951.8) rotate(-90)" font-size="15.29" textLength="25.9" lengthAdjust="spacingAndGlyphs">0.61</text>
<line class="t" x1="655.8" y1="980.4" x2="983.6" y2="980.4"/>
<line class="tk" x1="658" y1="978.6" x2="658" y2="982.2"/>
<line class="tk" x1="689.5" y1="978.6" x2="689.5" y2="982.2"/>
<line class="tk" x1="724" y1="978.6" x2="724" y2="982.2"/>
<line class="tk" x1="735.4" y1="978.6" x2="735.4" y2="982.2"/>
<line class="tk" x1="798" y1="978.6" x2="798" y2="982.2"/>
<line class="tk" x1="809" y1="978.6" x2="809" y2="982.2"/>
<line class="tk" x1="974" y1="978.6" x2="974" y2="982.2"/>
<line class="tk" x1="980.5" y1="978.6" x2="980.5" y2="982.2"/>
<text class="d" x="655" y="978.3" font-size="16.71" textLength="25.2" lengthAdjust="spacingAndGlyphs">0.60</text>
<text class="d" x="687.5" y="978.3" font-size="16.71" textLength="24.4" lengthAdjust="spacingAndGlyphs">0.77</text>
<text class="d" x="715.4" y="978.3" font-size="16.71" textLength="25.8" lengthAdjust="spacingAndGlyphs">0.23</text>
<text class="d" x="753.3" y="978.3" font-size="16.71" textLength="25.2" lengthAdjust="spacingAndGlyphs">1.38</text>
<text class="d" x="791.3" y="978.3" font-size="16.71" textLength="25.7" lengthAdjust="spacingAndGlyphs">0.23</text>
<text class="d" x="877.9" y="978.3" font-size="16.71" textLength="25.8" lengthAdjust="spacingAndGlyphs">3.66</text>
<text class="d" x="963.3" y="978.3" font-size="16.71" textLength="23.8" lengthAdjust="spacingAndGlyphs">0.11</text>
<line class="t" x1="657.7" y1="1007.8" x2="983.6" y2="1007.8"/>
<line class="tk" x1="660" y1="1006" x2="660" y2="1009.6"/>
<line class="tk" x1="689.5" y1="1006" x2="689.5" y2="1009.6"/>
<line class="tk" x1="981" y1="1006" x2="981" y2="1009.6"/>
<text class="d" x="662.6" y="1005.6" font-size="16.14" textLength="25.7" lengthAdjust="spacingAndGlyphs">0.61</text>
<text class="d" x="821.1" y="1005.6" font-size="16.14" textLength="25.7" lengthAdjust="spacingAndGlyphs">6.38</text>
<text class="ti" x="693.2" y="1066" font-size="23.14" textLength="217.2" lengthAdjust="spacingAndGlyphs">FIRST FLOOR PLAN</text>
<rect x="691.9" y="1070.6" width="219.9" height="1.6" fill="#606060"/>
<rect class="t" x="689.9" y="356.7" width="179.2" height="68.2"/>
<line class="t" x1="687" y1="372.8" x2="869.1" y2="372.8"/>
<line class="t" x1="689.9" y1="356.7" x2="869.1" y2="424.9"/>
<line class="t" x1="689.9" y1="424.9" x2="869.1" y2="356.7"/>
<path class="ds" d="M713.6 396.8 L841.8 396.8 L841.8 356.7"/>
<line class="t" x1="713.6" y1="396.8" x2="713.6" y2="424.9"/>
<line class="ds" x1="812.6" y1="396.8" x2="812.6" y2="424.9"/>
<text class="d" x="768.2" y="370.6" font-size="15.14" textLength="24" lengthAdjust="spacingAndGlyphs">3.91</text>
<text class="d" x="773" y="406.4" font-size="15.71" textLength="13" lengthAdjust="spacingAndGlyphs">01</text>
<path class="r" d="M869.3 356.7 L980.9 356.7 L979.7 924.5 L723.7 924.5 L723.7 829.9 L689.5 829.9 L689.7 425.2 L869.3 425.2 Z"/>
<rect class="b" x="870.2" y="363" width="4.4" height="26"/>
<rect class="b" x="824" y="426" width="45" height="5"/>
<rect class="b" x="690.7" y="473.7" width="4.5" height="68.1"/>
<rect class="b" x="690.7" y="624.5" width="4.5" height="69.2"/>
<rect class="b" x="690.7" y="780.4" width="4.5" height="26.6"/>
<rect class="b" x="819" y="917.8" width="68.3" height="5.4"/>
<rect x="728.3" y="858" width="3.8" height="65" fill="#a9b8b0"/>
<path class="w" d="M869.6 435.5 L869.6 362.7 L975.4 362.7 L974.2 914.4 L887.6 914.4 L887.6 923.7"/>
<line class="tt" x1="879.1" y1="363" x2="879.1" y2="389.2"/>
<path class="w" d="M869.6 389.2 L879.1 389.2 L879.1 425.4 L906.4 425.4 L906.4 540 L901 540 L901 435.5 L700.8 435.5 L700.8 473.2"/>
<line class="w" x1="823.5" y1="425.4" x2="823.5" y2="435.5"/>
<line class="w" x1="869.3" y1="425.4" x2="869.3" y2="435.5"/>
<path class="w" d="M901 602.2 L901 574.6 L906.4 574.6 L906.4 602.2"/>
<line class="w" x1="690" y1="473.2" x2="700.8" y2="473.2"/>
<line class="w" x1="690" y1="542.2" x2="700.8" y2="542.2"/>
<line class="w" x1="690" y1="624" x2="700.8" y2="624"/>
<line class="w" x1="690" y1="694.1" x2="700.8" y2="694.1"/>
<line class="tt" x1="700.8" y1="473.2" x2="700.8" y2="542.2"/>
<line class="tt" x1="700.8" y1="624" x2="700.8" y2="694.1"/>
<line class="tt" x1="700.8" y1="780" x2="700.8" y2="807.3"/>
<line class="tt" x1="690" y1="780" x2="700.8" y2="780"/>
<line class="w" x1="690" y1="807.3" x2="700.8" y2="807.3"/>
<path class="w" d="M700.8 542.2 L700.8 602.2 L809.1 602.2 L809.1 607.6 L700.8 607.6 L700.8 624"/>
<path class="w" d="M700.8 694.1 L700.8 711 L809.1 711 L809.1 751.4 L803.6 751.4 L803.6 716.4 L700.8 716.4 L700.8 780"/>
<path class="w" d="M700.8 807.3 L700.8 814.1 L803.6 814.1 L803.6 786 L809.1 786 L809.1 872.7 L798.2 872.7 L798.2 830.4 L735.4 830.4 L735.4 923.2"/>
<line class="w" x1="724.5" y1="857.7" x2="735.4" y2="857.7"/>
<line class="t" x1="725.2" y1="857.7" x2="725.2" y2="923.2"/>
<rect class="w" x="797.3" y="914.4" width="21.3" height="9.3"/>
<line class="tt" x1="818.6" y1="914.4" x2="887.6" y2="914.4"/>
<path class="w" d="M975.3 602.5 L850.7 602.5 L850.7 608.2 L975.3 608.2"/>
<path class="w" d="M975.3 710.9 L850.7 710.9 L850.7 716.3 L975.3 716.3"/>
<line class="st" x1="862" y1="608.2" x2="862" y2="654.5"/>
<line class="st" x1="862" y1="665.2" x2="862" y2="710.9"/>
<line class="st" x1="873.9" y1="608.2" x2="873.9" y2="654.5"/>
<line class="st" x1="873.9" y1="665.2" x2="873.9" y2="710.9"/>
<line class="st" x1="885.1" y1="608.2" x2="885.1" y2="654.5"/>
<line class="st" x1="885.1" y1="665.2" x2="885.1" y2="710.9"/>
<line class="st" x1="896.4" y1="608.2" x2="896.4" y2="654.5"/>
<line class="st" x1="896.4" y1="665.2" x2="896.4" y2="710.9"/>
<line class="st" x1="906.4" y1="608.2" x2="906.4" y2="654.5"/>
<line class="st" x1="906.4" y1="665.2" x2="906.4" y2="710.9"/>
<line class="st" x1="919" y1="608.2" x2="919" y2="654.5"/>
<line class="st" x1="919" y1="665.2" x2="919" y2="710.9"/>
<line class="st" x1="930" y1="608.2" x2="930" y2="654.5"/>
<line class="st" x1="930" y1="665.2" x2="930" y2="710.9"/>
<line class="st" x1="850.7" y1="654.5" x2="975.3" y2="654.5"/>
<line class="st" x1="850.7" y1="665.2" x2="975.3" y2="665.2"/>
<line class="st" x1="850.7" y1="608.2" x2="850.7" y2="710.9"/>
<line class="ar" x1="930" y1="652.6" x2="974.7" y2="608.8"/>
<line class="ar" x1="930" y1="666.4" x2="974.7" y2="710.9"/>
<line class="p" x1="850.7" y1="707.7" x2="974.7" y2="608.8"/>
<line class="p" x1="862" y1="611.3" x2="974.7" y2="711"/>
<line class="p" x1="845.7" y1="705.2" x2="983" y2="705.2"/>
<line class="p" x1="968.4" y1="604" x2="968.4" y2="722"/>
<line class="p" x1="905.2" y1="608" x2="905.2" y2="711"/>
<line class="ar" x1="850.7" y1="631.1" x2="932.7" y2="631.1"/>
<path class="ar" d="M924.5 626.8 L932.7 631.1 L924.5 635.6"/>
<circle cx="850" cy="631.1" r="1.2" fill="none" stroke="#555" stroke-width="0.8"/>
<line class="ar" x1="850.7" y1="688.3" x2="932.7" y2="688.3"/>
<path class="ar" d="M924.5 684 L932.7 688.3 L924.5 692.8"/>
<circle cx="850" cy="688.3" r="1.2" fill="none" stroke="#555" stroke-width="0.8"/>
<line class="w" x1="689.5" y1="466.9" x2="662.6" y2="466.9"/>
<line class="tt" x1="662.6" y1="466.9" x2="662.3" y2="700.4"/>
<line class="w" x1="662.6" y1="473.2" x2="689.5" y2="473.2"/>
<path class="w" d="M689.5 694.6 L662.3 694.6 L662.3 700.4 L689.5 700.4"/>
<line class="w" x1="662.6" y1="466.9" x2="662.6" y2="473.2"/>
<path class="w" d="M689.5 737.7 L675.4 737.7 L675.4 778.6 L689.5 778.6"/>
<path class="w" d="M689.5 742.6 L680.9 742.6 L680.9 773.7 L689.5 773.7"/>
<line class="t" x1="675.4" y1="778.6" x2="675.4" y2="807.3"/>
<rect class="w" x="675.4" y="807.3" width="14.1" height="6.2"/>
<rect class="t" x="689.1" y="831.3" width="34.6" height="85"/>
<line class="t" x1="689.1" y1="831.3" x2="723.2" y2="923.5"/>
<line class="t" x1="689.6" y1="923.5" x2="723.7" y2="831.3"/>
<text class="d" x="701.9" y="892.4" font-size="16.29" textLength="14.5" lengthAdjust="spacingAndGlyphs">02</text>
<text class="d" x="693.2" y="913.4" font-size="16.86" textLength="25.9" lengthAdjust="spacingAndGlyphs">0.77</text>
<line class="t" x1="685" y1="915" x2="724.5" y2="915"/>
<line class="t" x1="682.3" y1="827.7" x2="682.3" y2="925.9"/>
<line class="tk" x1="680.5" y1="830" x2="684.1" y2="830"/>
<line class="tk" x1="680.5" y1="924" x2="684.1" y2="924"/>
<text class="d" transform="translate(680.5 890.4) rotate(-90)" font-size="16.43" textLength="26.4" lengthAdjust="spacingAndGlyphs">2.05</text>
<path class="ds" d="M689.1 916.3 L689.1 924.5 L723.7 924.5"/>
<rect class="w" x="723.5" y="923.4" width="11.5" height="29.4"/>
<path class="w" d="M956.5 924.6 L956.5 952.8 L967.3 952.8 L967.3 924.6"/>
<rect class="tt" x="735" y="924.6" width="61.7" height="12"/>
<text class="sm" x="745.5" y="934.7" font-size="10.29" textLength="43.1" lengthAdjust="spacingAndGlyphs">ARCH.PROJ.</text>
<rect x="735" y="937.6" width="68.5" height="5.4" fill="#9a9a9a"/>
<line x1="735" y1="940.3" x2="803.5" y2="940.3" stroke="#e8e8e8" stroke-width="0.8"/>
<line class="tt" x1="803.5" y1="924.6" x2="803.5" y2="943"/>
<line class="tt" x1="807.5" y1="924.6" x2="807.5" y2="946"/>
<line class="t" x1="735" y1="946" x2="957" y2="946"/>
<line class="ds" x1="735" y1="952.3" x2="957" y2="952.3"/>
<path class="w" d="M887.4 924.4 L887.4 931.1 L956.5 946"/>
<path class="w" d="M917.6 924.6 L917.6 932 L956.5 940.8"/>
<line class="dd" x1="646.8" y1="684.6" x2="1055.9" y2="684.6"/>
<text class="l" x="650" y="681.3" font-size="13.57" textLength="8.3" lengthAdjust="spacingAndGlyphs">A</text>
<line class="t" x1="647.4" y1="669.5" x2="647.4" y2="684.6"/>
<text class="l" x="1044.9" y="682.1" font-size="13.43" textLength="7.1" lengthAdjust="spacingAndGlyphs">A</text>
<line class="t" x1="1054.7" y1="669.5" x2="1054.7" y2="684.6"/>
<text class="l" x="898.5" y="392" font-size="12.29" textLength="52.9" lengthAdjust="spacingAndGlyphs">ATT.TOILET</text>
<text class="l" x="899" y="407.5" font-size="12.71" textLength="53.2" lengthAdjust="spacingAndGlyphs">2.13 X 1.39</text>
<text class="l" x="767.6" y="509.6" font-size="12.57" textLength="52.9" lengthAdjust="spacingAndGlyphs">BED ROOM</text>
<text class="l" x="767.6" y="524.8" font-size="12.57" textLength="52.9" lengthAdjust="spacingAndGlyphs">4.40 X 3.66</text>
<text class="l" x="914.9" y="501" font-size="12.57" textLength="48.8" lengthAdjust="spacingAndGlyphs">DRESSING</text>
<text class="l" x="912.7" y="516.6" font-size="12.57" textLength="53.2" lengthAdjust="spacingAndGlyphs">1.53 X 3.89</text>
<text class="l" x="899" y="563" font-size="12.14" textLength="12.3" lengthAdjust="spacingAndGlyphs">D2</text>
<text class="l" x="823.8" y="610" font-size="11.71" textLength="10.9" lengthAdjust="spacingAndGlyphs">D1</text>
<text class="l" x="841.2" y="445.9" font-size="12" textLength="14.2" lengthAdjust="spacingAndGlyphs">W1</text>
<text class="l" x="836.3" y="634.5" font-size="9.57" textLength="10.6" lengthAdjust="spacingAndGlyphs">DN</text>
<text class="l" x="835.7" y="692.3" font-size="9.29" textLength="10.6" lengthAdjust="spacingAndGlyphs">UP</text>
<text class="l" x="756.7" y="653.8" font-size="12.86" textLength="31.9" lengthAdjust="spacingAndGlyphs">LONGE</text>
<text class="l" x="746.3" y="669.3" font-size="12.71" textLength="52.7" lengthAdjust="spacingAndGlyphs">3.29 X 2.25</text>
<text class="l" x="824.4" y="719.2" font-size="11.71" textLength="10.6" lengthAdjust="spacingAndGlyphs">D1</text>
<text class="l" x="723.2" y="763.6" font-size="12.29" textLength="53.1" lengthAdjust="spacingAndGlyphs">ATT.TOILET</text>
<text class="l" x="723.7" y="779" font-size="12.57" textLength="53.2" lengthAdjust="spacingAndGlyphs">2.26 X 2.14</text>
<text class="l" x="800.9" y="774.4" font-size="12.29" textLength="12.8" lengthAdjust="spacingAndGlyphs">D2</text>
<text class="l" x="868.2" y="808.4" font-size="12.86" textLength="51.3" lengthAdjust="spacingAndGlyphs">BED ROOM</text>
<text class="l" x="868.2" y="823.4" font-size="12.57" textLength="51.3" lengthAdjust="spacingAndGlyphs">3.66 X 4.31</text>
<text class="l" x="742.3" y="873.8" font-size="12.86" textLength="45" lengthAdjust="spacingAndGlyphs">BALCONY</text>
<text class="l" x="739" y="889.8" font-size="12.57" textLength="52.4" lengthAdjust="spacingAndGlyphs">1.38 X 2.00</text>
<text class="l" x="797.3" y="897.7" font-size="12" textLength="11.2" lengthAdjust="spacingAndGlyphs">D1</text>
<text class="l" x="855.4" y="912.2" font-size="11.43" textLength="9" lengthAdjust="spacingAndGlyphs">W</text>
<text class="l" transform="translate(712 515.4) rotate(-90)" font-size="12.86" textLength="8.7" lengthAdjust="spacingAndGlyphs">W</text>
<text class="l" transform="translate(890.3 379.6) rotate(-90)" font-size="12.14" textLength="7.3" lengthAdjust="spacingAndGlyphs">V</text>
<text class="l" transform="translate(711.2 663.3) rotate(-90)" font-size="12.86" textLength="8.8" lengthAdjust="spacingAndGlyphs">W</text>
<text class="l" transform="translate(710.2 799.2) rotate(-90)" font-size="12.29" textLength="6.6" lengthAdjust="spacingAndGlyphs">V</text>
<text class="l" transform="translate(901.4 642) rotate(-90)" font-size="14.29" textLength="23.8" lengthAdjust="spacingAndGlyphs">1.00</text>
<text class="l" transform="translate(901.4 699.6) rotate(-90)" font-size="14.29" textLength="23.8" lengthAdjust="spacingAndGlyphs">1.00</text>
<text class="pk" x="902.7" y="702.7" font-size="14.86" textLength="24.4" lengthAdjust="spacingAndGlyphs">2.87</text>
<text class="pk" transform="translate(965.9 671.4) rotate(-90)" font-size="14.14" textLength="23.8" lengthAdjust="spacingAndGlyphs">2.47</text>
<line class="t" x1="1131.4" y1="302.2" x2="1458.6" y2="302.2"/>
<line class="tk" x1="1134" y1="300.4" x2="1134" y2="304"/>
<line class="tk" x1="1163" y1="300.4" x2="1163" y2="304"/>
<line class="tk" x1="1457" y1="300.4" x2="1457" y2="304"/>
<text class="d" x="1136" y="300" font-size="15.71" textLength="25.9" lengthAdjust="spacingAndGlyphs">0.60</text>
<text class="d" x="1296.3" y="300" font-size="15.71" textLength="25.9" lengthAdjust="spacingAndGlyphs">6.38</text>
<line class="t" x1="1130" y1="329.2" x2="1458.6" y2="329.2"/>
<line class="tk" x1="1132" y1="327.4" x2="1132" y2="331"/>
<line class="tk" x1="1163" y1="327.4" x2="1163" y2="331"/>
<line class="tk" x1="1174" y1="327.4" x2="1174" y2="331"/>
<line class="tk" x1="1342.5" y1="327.4" x2="1342.5" y2="331"/>
<line class="tk" x1="1352" y1="327.4" x2="1352" y2="331"/>
<line class="tk" x1="1450.5" y1="327.4" x2="1450.5" y2="331"/>
<line class="tk" x1="1456.5" y1="327.4" x2="1456.5" y2="331"/>
<text class="d" x="1129.2" y="327.2" font-size="15.71" textLength="25.3" lengthAdjust="spacingAndGlyphs">0.60</text>
<text class="d" x="1160" y="327.2" font-size="15.71" textLength="25.4" lengthAdjust="spacingAndGlyphs">0.23</text>
<text class="d" x="1245" y="327.2" font-size="15.71" textLength="26" lengthAdjust="spacingAndGlyphs">3.68</text>
<text class="d" x="1335.3" y="327.2" font-size="15.71" textLength="25.1" lengthAdjust="spacingAndGlyphs">0.23</text>
<text class="d" x="1389" y="327.2" font-size="15.71" textLength="26" lengthAdjust="spacingAndGlyphs">2.13</text>
<text class="d" x="1443.6" y="327.2" font-size="15.71" textLength="24.5" lengthAdjust="spacingAndGlyphs">0.11</text>
<line class="t" x1="1080.4" y1="354.5" x2="1080.4" y2="751.4"/>
<line class="t" x1="1108.2" y1="354.5" x2="1108.2" y2="755.5"/>
<line class="tk" x1="1078.6" y1="357.3" x2="1082.2" y2="357.3"/>
<line class="tk" x1="1078.6" y1="722" x2="1082.2" y2="722"/>
<line class="tk" x1="1078.6" y1="751" x2="1082.2" y2="751"/>
<line class="tk" x1="1106.4" y1="357.3" x2="1110" y2="357.3"/>
<line class="tk" x1="1106.4" y1="426" x2="1110" y2="426"/>
<line class="tk" x1="1106.4" y1="436.4" x2="1110" y2="436.4"/>
<line class="tk" x1="1106.4" y1="602.7" x2="1110" y2="602.7"/>
<line class="tk" x1="1106.4" y1="609" x2="1110" y2="609"/>
<line class="tk" x1="1106.4" y1="711.3" x2="1110" y2="711.3"/>
<line class="tk" x1="1106.4" y1="722" x2="1110" y2="722"/>
<line class="tk" x1="1106.4" y1="755" x2="1110" y2="755"/>
<text class="d" transform="translate(1078 550.9) rotate(-90)" font-size="16.86" textLength="24.6" lengthAdjust="spacingAndGlyphs">7.98</text>
<text class="d" transform="translate(1077.6 748.6) rotate(-90)" font-size="16.29" textLength="25.9" lengthAdjust="spacingAndGlyphs">0.60</text>
<text class="d" transform="translate(1106.2 403.6) rotate(-90)" font-size="16.29" textLength="25.1" lengthAdjust="spacingAndGlyphs">1.50</text>
<text class="d" transform="translate(1106.2 444.5) rotate(-90)" font-size="16.29" textLength="25.9" lengthAdjust="spacingAndGlyphs">0.23</text>
<text class="d" transform="translate(1106.2 531.8) rotate(-90)" font-size="16.29" textLength="25.9" lengthAdjust="spacingAndGlyphs">3.66</text>
<text class="d" transform="translate(1106.2 619) rotate(-90)" font-size="16.29" textLength="24.5" lengthAdjust="spacingAndGlyphs">0.11</text>
<text class="d" transform="translate(1106.2 673) rotate(-90)" font-size="16.29" textLength="25.3" lengthAdjust="spacingAndGlyphs">2.25</text>
<text class="d" transform="translate(1106.2 726.3) rotate(-90)" font-size="16.29" textLength="25.9" lengthAdjust="spacingAndGlyphs">0.23</text>
<text class="d" transform="translate(1106.2 755.4) rotate(-90)" font-size="16.29" textLength="26.4" lengthAdjust="spacingAndGlyphs">0.60</text>
<line class="g" x1="1482.5" y1="354.5" x2="1482.5" y2="755.5"/>
<line class="t" x1="1509.6" y1="354.5" x2="1509.6" y2="751.4"/>
<line class="tk" x1="1480.7" y1="357.3" x2="1484.3" y2="357.3"/>
<line class="tk" x1="1480.7" y1="363.3" x2="1484.3" y2="363.3"/>
<line class="tk" x1="1480.7" y1="602.7" x2="1484.3" y2="602.7"/>
<line class="tk" x1="1480.7" y1="609" x2="1484.3" y2="609"/>
<line class="tk" x1="1480.7" y1="711.3" x2="1484.3" y2="711.3"/>
<line class="tk" x1="1480.7" y1="722" x2="1484.3" y2="722"/>
<line class="tk" x1="1480.7" y1="755" x2="1484.3" y2="755"/>
<line class="tk" x1="1507.8" y1="357.3" x2="1511.4" y2="357.3"/>
<line class="tk" x1="1507.8" y1="722" x2="1511.4" y2="722"/>
<line class="tk" x1="1507.8" y1="751" x2="1511.4" y2="751"/>
<text class="d" transform="translate(1480.3 372.3) rotate(-90)" font-size="16.57" textLength="24.6" lengthAdjust="spacingAndGlyphs">0.11</text>
<text class="d" transform="translate(1480.3 495.8) rotate(-90)" font-size="16.57" textLength="25.4" lengthAdjust="spacingAndGlyphs">5.28</text>
<text class="d" transform="translate(1480.3 618.5) rotate(-90)" font-size="16.57" textLength="24.5" lengthAdjust="spacingAndGlyphs">0.11</text>
<text class="d" transform="translate(1480.3 673.6) rotate(-90)" font-size="16.57" textLength="25.9" lengthAdjust="spacingAndGlyphs">2.25</text>
<text class="d" transform="translate(1480.3 727) rotate(-90)" font-size="16.57" textLength="25.6" lengthAdjust="spacingAndGlyphs">0.23</text>
<text class="d" transform="translate(1480.3 755.4) rotate(-90)" font-size="16.57" textLength="25.9" lengthAdjust="spacingAndGlyphs">0.60</text>
<text class="d" transform="translate(1508.2 550.9) rotate(-90)" font-size="16.29" textLength="24.6" lengthAdjust="spacingAndGlyphs">7.98</text>
<text class="d" transform="translate(1506.3 748.6) rotate(-90)" font-size="16.14" textLength="25.9" lengthAdjust="spacingAndGlyphs">0.60</text>
<line class="t" x1="1129.4" y1="981.3" x2="1455.8" y2="981.3"/>
<line class="tk" x1="1132" y1="979.5" x2="1132" y2="983.1"/>
<line class="tk" x1="1163" y1="979.5" x2="1163" y2="983.1"/>
<line class="tk" x1="1173.5" y1="979.5" x2="1173.5" y2="983.1"/>
<line class="tk" x1="1450" y1="979.5" x2="1450" y2="983.1"/>
<line class="tk" x1="1455" y1="979.5" x2="1455" y2="983.1"/>
<text class="d" x="1128.8" y="979.2" font-size="16.71" textLength="25.5" lengthAdjust="spacingAndGlyphs">0.60</text>
<text class="d" x="1158.6" y="979.2" font-size="16.71" textLength="25" lengthAdjust="spacingAndGlyphs">0.23</text>
<text class="d" x="1298.7" y="979.2" font-size="16.71" textLength="25.2" lengthAdjust="spacingAndGlyphs">6.04</text>
<text class="d" x="1438.2" y="979.2" font-size="16.71" textLength="23.8" lengthAdjust="spacingAndGlyphs">0.11</text>
<line class="t" x1="1130.7" y1="1008.9" x2="1457.1" y2="1008.9"/>
<line class="tk" x1="1133" y1="1007.1" x2="1133" y2="1010.7"/>
<line class="tk" x1="1162" y1="1007.1" x2="1162" y2="1010.7"/>
<line class="tk" x1="1455.5" y1="1007.1" x2="1455.5" y2="1010.7"/>
<text class="d" x="1130.7" y="1006.8" font-size="16.14" textLength="25.8" lengthAdjust="spacingAndGlyphs">0.60</text>
<text class="d" x="1296" y="1006.8" font-size="16.14" textLength="25.7" lengthAdjust="spacingAndGlyphs">6.38</text>
<text class="ti" x="1203.3" y="1067.5" font-size="22.86" textLength="251.1" lengthAdjust="spacingAndGlyphs">SECOND FLOOR PLAN</text>
<rect x="1202.5" y="1071.9" width="253.8" height="1.6" fill="#606060"/>
<rect class="t" x="1162.7" y="357.3" width="179.5" height="68.1"/>
<line class="t" x1="1158.6" y1="373.6" x2="1342.2" y2="373.6"/>
<line class="t" x1="1162.7" y1="357.3" x2="1342.2" y2="425.4"/>
<line class="t" x1="1162.7" y1="425.4" x2="1342.2" y2="357.3"/>
<path class="ds" d="M1185.9 397.4 L1314 397.4 L1314 357.3"/>
<line class="t" x1="1185.9" y1="397.4" x2="1185.9" y2="425.4"/>
<line class="ds" x1="1285.4" y1="397.4" x2="1285.4" y2="425.4"/>
<text class="d" x="1240.4" y="371" font-size="15" textLength="25.4" lengthAdjust="spacingAndGlyphs">3.91</text>
<text class="d" x="1245" y="405" font-size="15.71" textLength="13.2" lengthAdjust="spacingAndGlyphs">01</text>
<path class="r" d="M1342.4 357.3 L1455.9 357.3 L1454.7 721.9 L1162.3 721.9 L1162.5 426 L1342.4 426 Z"/>
<rect class="b" x="1343.4" y="363.6" width="4.4" height="26.4"/>
<rect class="b" x="1296.2" y="426.8" width="45.8" height="5.4"/>
<rect class="b" x="1163.3" y="474.2" width="4.5" height="68.8"/>
<rect class="b" x="1163.3" y="625.6" width="4.5" height="68.9"/>
<rect class="b" x="1363" y="712.3" width="28" height="5.5"/>
<path class="w" d="M1342.7 436.4 L1342.7 363.3 L1450.4 363.3 L1450.4 711.3"/>
<line class="tt" x1="1351.7" y1="363.5" x2="1351.7" y2="390"/>
<path class="w" d="M1342.7 390 L1351.7 390 L1351.7 426 L1380.3 426 L1380.3 540.8 L1374.9 540.8 L1374.9 436.4 L1173.6 436.4 L1173.6 473.7"/>
<line class="w" x1="1295.8" y1="426" x2="1295.8" y2="436.4"/>
<line class="w" x1="1342.3" y1="426" x2="1342.3" y2="436.4"/>
<path class="w" d="M1374.9 602.7 L1374.9 575.4 L1380.3 575.4 L1380.3 602.7"/>
<line class="w" x1="1163" y1="473.7" x2="1173.6" y2="473.7"/>
<line class="w" x1="1163" y1="543.5" x2="1173.6" y2="543.5"/>
<line class="w" x1="1163" y1="625.1" x2="1173.6" y2="625.1"/>
<line class="w" x1="1163" y1="694.9" x2="1173.6" y2="694.9"/>
<line class="tt" x1="1173.6" y1="473.7" x2="1173.6" y2="543.5"/>
<line class="tt" x1="1173.6" y1="625.1" x2="1173.6" y2="694.9"/>
<path class="w" d="M1173.6 543.5 L1173.6 602.7 L1282.2 602.7 L1282.2 609 L1173.6 609 L1173.6 625.1"/>
<path class="w" d="M1173.6 694.9 L1173.6 711.3 L1282.2 711.3 L1282.2 721.4"/>
<path class="w" d="M1323.6 721.4 L1323.6 711.3 L1450.4 711.3"/>
<line class="w" x1="1362.6" y1="711.3" x2="1362.6" y2="721.4"/>
<line class="w" x1="1391.2" y1="711.3" x2="1391.2" y2="721.4"/>
<path class="w" d="M1450.4 602.7 L1323.6 602.7 L1323.6 609 L1450.4 609"/>
<line class="st" x1="1335.4" y1="609" x2="1335.4" y2="654.5"/>
<line class="st" x1="1335.4" y1="666" x2="1335.4" y2="711.3"/>
<line class="st" x1="1347.3" y1="609" x2="1347.3" y2="654.5"/>
<line class="st" x1="1347.3" y1="666" x2="1347.3" y2="711.3"/>
<line class="st" x1="1358.5" y1="609" x2="1358.5" y2="654.5"/>
<line class="st" x1="1358.5" y1="666" x2="1358.5" y2="711.3"/>
<line class="st" x1="1370" y1="609" x2="1370" y2="654.5"/>
<line class="st" x1="1370" y1="666" x2="1370" y2="711.3"/>
<line class="st" x1="1381.7" y1="609" x2="1381.7" y2="654.5"/>
<line class="st" x1="1381.7" y1="666" x2="1381.7" y2="711.3"/>
<line class="st" x1="1393.2" y1="609" x2="1393.2" y2="654.5"/>
<line class="st" x1="1393.2" y1="666" x2="1393.2" y2="711.3"/>
<line class="st" x1="1404.6" y1="609" x2="1404.6" y2="654.5"/>
<line class="st" x1="1404.6" y1="666" x2="1404.6" y2="711.3"/>
<line class="st" x1="1323.6" y1="654.5" x2="1450.4" y2="654.5"/>
<line class="st" x1="1323.6" y1="666" x2="1450.4" y2="666"/>
<line class="st" x1="1323.6" y1="609" x2="1323.6" y2="711.3"/>
<line class="ar" x1="1404.6" y1="653" x2="1450" y2="609.5"/>
<line class="ar" x1="1404.6" y1="667" x2="1450" y2="711.3"/>
<line class="p" x1="1323.6" y1="708" x2="1450" y2="609.5"/>
<line class="p" x1="1335" y1="612" x2="1455" y2="722"/>
<line class="p" x1="1318" y1="705.5" x2="1460" y2="705.5"/>
<line class="p" x1="1443.5" y1="604" x2="1443.5" y2="724"/>
<line class="p" x1="1379.5" y1="609" x2="1379.5" y2="711"/>
<line class="ar" x1="1323.6" y1="632.2" x2="1408.2" y2="632.2"/>
<path class="ar" d="M1400 627.8 L1408.2 632.2 L1400 636.8"/>
<circle cx="1323" cy="632.2" r="1.2" fill="none" stroke="#555" stroke-width="0.8"/>
<line class="w" x1="1162.4" y1="467.7" x2="1134.1" y2="467.7"/>
<line class="tt" x1="1134.1" y1="467.7" x2="1134.1" y2="701.4"/>
<line class="w" x1="1134.1" y1="473.7" x2="1162.4" y2="473.7"/>
<path class="w" d="M1162.4 695.4 L1134.1 695.4 L1134.1 701.4 L1162.4 701.4"/>
<line class="w" x1="1134.1" y1="467.7" x2="1134.1" y2="473.7"/>
<line class="dd" x1="1119" y1="685.4" x2="1529.5" y2="685.4"/>
<text class="l" x="1121.8" y="681.8" font-size="14" textLength="8.7" lengthAdjust="spacingAndGlyphs">A</text>
<line class="t" x1="1119.6" y1="669.5" x2="1119.6" y2="685.4"/>
<text class="l" x="1519.4" y="682" font-size="14" textLength="7.9" lengthAdjust="spacingAndGlyphs">A</text>
<line class="t" x1="1529.5" y1="669.5" x2="1529.5" y2="685.4"/>
<rect x="1173.6" y="750.4" width="218.2" height="12.6" fill="url(#hat)"/>
<rect x="1173.6" y="768.3" width="218.2" height="11.9" fill="url(#hat)"/>
<rect x="1173.6" y="785.8" width="218.2" height="11.4" fill="url(#hat)"/>
<rect x="1173.6" y="802.5" width="218.2" height="12.7" fill="url(#hat)"/>
<path class="w" d="M1162.2 722.7 L1162.2 831.3 L1190.8 831.3 L1190.8 815.4 L1173.1 815.4 L1173.1 722.7"/>
<line class="w" x1="1162.2" y1="815.4" x2="1173.1" y2="815.4"/>
<rect class="w" x="1252.7" y="815.4" width="29.5" height="15.9"/>
<rect x="1191.5" y="821.3" width="61.5" height="3.4" fill="#a8a8a8"/>
<line class="g" x1="1190.8" y1="831.3" x2="1252.7" y2="831.3"/>
<line x1="1174.2" y1="750.7" x2="1391.8" y2="750.7" stroke="#6e6e76" stroke-width="1.2" stroke-dasharray="10.5 6.6"/>
<line class="w" x1="1450.6" y1="722.7" x2="1450.6" y2="831.3"/>
<line class="w" x1="1454.1" y1="722.7" x2="1454.1" y2="831.3"/>
<line class="t" x1="1190.8" y1="815.4" x2="1391.8" y2="815.4"/>
<line class="ds" x1="1401.4" y1="722.7" x2="1401.4" y2="815.4"/>
<line class="ds" x1="1391.8" y1="815.4" x2="1450.4" y2="815.4"/>
<line class="ds" x1="1282.2" y1="831.3" x2="1450.4" y2="831.3"/>
<path class="g" d="M1162.2 739.1 L1147.7 739.1 L1147.7 814.1 L1162.2 814.1"/>
<path class="t" d="M1271.4 831.3 L1271.4 925.7 L1361.8 925.7"/>
<path class="t" d="M1281.6 831.3 L1281.6 915.8 L1361.8 915.8"/>
<path d="M1275.2 831.3 L1278.4 831.3 L1278.4 919.4 L1361.3 919.4 L1361.3 922.6 L1275.2 922.6 Z" fill="#aeaeae"/>
<line class="t" x1="1361.8" y1="915.8" x2="1361.8" y2="925.7"/>
<line class="t" x1="1361.8" y1="915.8" x2="1454.5" y2="915.8"/>
<line class="t" x1="1361.8" y1="925.7" x2="1454.5" y2="925.7"/>
<line class="t" x1="1450.4" y1="831.3" x2="1450.4" y2="916.3"/>
<path class="gg" d="M1207.7 831.3 L1207.7 916.3 L1271.8 916.3"/>
<path class="gg" d="M1271.8 925.9 L1196.8 925.9"/>
<path class="g" d="M1196.8 831.3 L1196.8 954.5 L1443 954.5 L1443 925.9"/>
<text class="l" x="1373.5" y="392.5" font-size="12.71" textLength="53.7" lengthAdjust="spacingAndGlyphs">ATT.TOILET</text>
<text class="l" x="1373.5" y="408" font-size="12.86" textLength="54.3" lengthAdjust="spacingAndGlyphs">2.13 X 1.39</text>
<text class="l" x="1240.4" y="510.3" font-size="12.71" textLength="53.2" lengthAdjust="spacingAndGlyphs">BED ROOM</text>
<text class="l" x="1239.9" y="525.6" font-size="12.86" textLength="54.3" lengthAdjust="spacingAndGlyphs">4.40 X 3.66</text>
<text class="l" x="1389.9" y="501.6" font-size="12.86" textLength="49.6" lengthAdjust="spacingAndGlyphs">DRESSING</text>
<text class="l" x="1387.7" y="517.1" font-size="12.71" textLength="53.2" lengthAdjust="spacingAndGlyphs">1.53 X 3.89</text>
<text class="l" x="1372.7" y="563.8" font-size="12.14" textLength="12.8" lengthAdjust="spacingAndGlyphs">D2</text>
<text class="l" x="1297.2" y="610.7" font-size="12.14" textLength="11.4" lengthAdjust="spacingAndGlyphs">D1</text>
<text class="l" x="1314" y="446.4" font-size="12" textLength="15" lengthAdjust="spacingAndGlyphs">W1</text>
<text class="l" x="1309.4" y="635.6" font-size="9.71" textLength="11.5" lengthAdjust="spacingAndGlyphs">DN</text>
<text class="l" x="1229.5" y="654.4" font-size="12.86" textLength="32.8" lengthAdjust="spacingAndGlyphs">LONGE</text>
<text class="l" x="1219.2" y="669.8" font-size="12.57" textLength="54" lengthAdjust="spacingAndGlyphs">3.29 X 2.25</text>
<text class="l" x="1297.2" y="720.6" font-size="12.29" textLength="11.4" lengthAdjust="spacingAndGlyphs">D1</text>
<text class="l" x="1371.3" y="734" font-size="12" textLength="15" lengthAdjust="spacingAndGlyphs">W4</text>
<text class="l" x="1336.7" y="867.8" font-size="12.86" textLength="44.2" lengthAdjust="spacingAndGlyphs">TERRACE</text>
<text class="l" transform="translate(1185.6 516.3) rotate(-90)" font-size="13.43" textLength="9" lengthAdjust="spacingAndGlyphs">W</text>
<text class="l" transform="translate(1362.4 380.5) rotate(-90)" font-size="12" textLength="7.5" lengthAdjust="spacingAndGlyphs">V</text>
<text class="l" transform="translate(1185.2 668.7) rotate(-90)" font-size="12.86" textLength="8.2" lengthAdjust="spacingAndGlyphs">W</text>
<text class="l" transform="translate(1375.8 643.6) rotate(-90)" font-size="15.71" textLength="25.1" lengthAdjust="spacingAndGlyphs">1.00</text>
<text class="l" transform="translate(1375.8 701.4) rotate(-90)" font-size="15.71" textLength="25.6" lengthAdjust="spacingAndGlyphs">1.00</text>
<text class="pk" x="1378.2" y="704.8" font-size="15.71" textLength="24.5" lengthAdjust="spacingAndGlyphs">2.87</text>
<text class="pk" transform="translate(1442 674.2) rotate(-90)" font-size="15.71" textLength="25.2" lengthAdjust="spacingAndGlyphs">2.47</text>
<line class="g" x1="1864" y1="357.4" x2="1863.5" y2="925.2"/>
<path class="tr" d="M1750.2 425.6 L1750.2 357.4 L1864 357.4"/>
<path class="tr" d="M1760.5 425.6 L1760.5 362.8 L1858.5 362.8 L1858.5 425.6"/>
<path class="tr" d="M1750.2 359.5 L1722.2 359.5 L1722.2 400 L1593.5 400 L1593.5 425.6"/>
<line class="tr" x1="1693.7" y1="400" x2="1693.7" y2="425.6"/>
<line class="tr" x1="1570.5" y1="426.3" x2="1864" y2="426.3"/>
<line class="t" x1="1570.3" y1="426.3" x2="1570" y2="831.2"/>
<path class="tr" d="M1809.3 711.9 L1580.5 711.9 L1580.5 436.6 L1858.5 436.6 L1858.8 914.8"/>
<path class="tr" d="M1809.3 711.9 L1809.3 814.8 L1858.9 814.8"/>
<line class="t" x1="1570" y1="722.2" x2="1863.3" y2="722.2"/>
<line class="tr" x1="1570" y1="831.2" x2="1863.3" y2="831.2"/>
<rect x="1580.5" y="750.7" width="218.3" height="64.1" fill="url(#hat2)" stroke="#666" stroke-width="0.9"/>
<rect x="1580.5" y="750.7" width="218.3" height="64.1" fill="url(#hg)"/>
<path class="tr" d="M1570.5 467.9 L1543.1 467.9 L1542.6 701.4 L1570 701.4"/>
<line class="gg" x1="1604.6" y1="831.2" x2="1604.6" y2="954.2"/>
<line class="gg" x1="1615.3" y1="831.2" x2="1615.3" y2="914.8"/>
<line class="t" x1="1679.5" y1="831.2" x2="1679.5" y2="925.2"/>
<line class="tr" x1="1690.2" y1="831.2" x2="1690.7" y2="914.8"/>
<line class="tr" x1="1690.7" y1="914.8" x2="1858.8" y2="914.8"/>
<line class="t" x1="1679.5" y1="925.2" x2="1863.7" y2="925.2"/>
<line class="gg" x1="1615.3" y1="914.8" x2="1679.5" y2="914.8"/>
<line class="gg" x1="1604.6" y1="925.2" x2="1679.5" y2="925.2"/>
<path class="g" d="M1604.6 954.2 L1852.4 954.2 L1852.4 925.2"/>
<text class="l" x="1691" y="566.2" font-size="12" textLength="45" lengthAdjust="spacingAndGlyphs">TERRACE</text>
<text class="l" x="1720" y="869" font-size="12.57" textLength="83" lengthAdjust="spacingAndGlyphs">LOWER TERRACE</text>
<text class="ti" x="1588.7" y="1068.1" font-size="23" textLength="265.2" lengthAdjust="spacingAndGlyphs">TERRACE FLOOR PLAN</text>
<rect x="1587.5" y="1073.4" width="267.8" height="1.6" fill="#606060"/>
<text x="1387" y="934.3" font-size="60" fill="#c4c4c4" fill-opacity="0.6" textLength="501" lengthAdjust="spacingAndGlyphs">www.A2ZProperty.in</text>
</g></svg></body></html>
